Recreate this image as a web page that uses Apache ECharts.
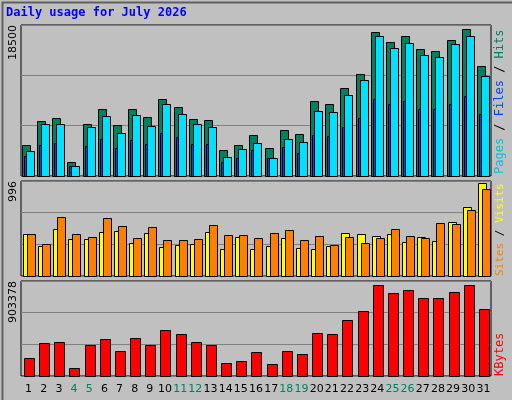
<!DOCTYPE html>
<html><head><meta charset="utf-8">
<script src="https://cdn.jsdelivr.net/npm/echarts@6/dist/echarts.min.js"></script>
<style>html,body{margin:0;padding:0;background:#c0c0c0}#c{width:512px;height:400px}</style>
</head><body><div id="c"></div>
<script>
const days = ['1','2','3','4','5','6','7','8','9','10','11','12','13','14','15','16','17','18','19','20','21','22','23','24','25','26','27','28','29','30','31'];
const weekend = ['4','5','11','12','18','19','25','26'];
const hits  = [3822,6750,7116,1748,6384,8213,6262,8213,7237,9433,8457,6994,6872,3212,3822,5042,3456,5652,5164,9189,8823,10775,12483,17606,16386,17118,15532,15288,16630,17972,13458];
const files = [3090,6384,6384,1260,6018,7360,5286,7481,6140,8823,7603,6384,6018,2358,3334,4066,2236,4554,4188,7970,7847,9921,11751,17118,15654,16264,14800,14556,16142,17118,12239];
const pages = [2400,3740,4066,1260,3619,4473,3375,4350,3944,5286,4838,3863,3863,1748,2236,3131,2236,3497,2846,5042,4920,6018,7116,9433,8823,9189,8213,8213,8823,9799,7603];
const visits= [443,316,495,390,390,464,474,348,453,306,327,337,464,285,411,285,316,400,295,285,316,453,443,422,443,358,411,369,569,727,970];
const sites = [443,337,622,443,411,611,527,400,516,379,379,390,537,432,432,400,453,485,379,422,327,411,348,400,495,422,400,559,548,696,917];
const kbytes= [173700,315900,325300,79000,296900,353800,240000,363300,296900,439000,401100,325300,296900,126300,145300,230600,116900,240000,211600,410600,401100,533800,619100,865500,789700,818100,742300,742300,799200,865500,638100];
const maxLabels = [18500, 996, 903378];

const chart = echarts.init(document.getElementById('c'));
const L = 21, R = 21;
const grids = [
  {left:L, right:R, top:25, height:151},
  {left:L, right:R, top:181, height:95},
  {left:L, right:R, top:281, height:95}
];
function bar(data, color, gi, dx, w){
  return {type:'custom', xAxisIndex:gi, yAxisIndex:gi, data:data.map((v,i)=>[i,v]),
    renderItem:(p,api)=>{
      const top = api.coord([api.value(0), api.value(1)]);
      const base = api.coord([api.value(0), 0]);
      const cw = api.size([1,0])[0];
      const x = Math.round(base[0] - cw/2 + dx);
      return {type:'rect', shape:{x:x+0.5, y:Math.round(top[1])+0.5, width:w, height:Math.round(base[1]-top[1])},
        style:{fill:color, stroke:'#000', lineWidth:1}};
    }};
}
const xAxes = grids.map((g,i)=>({type:'category', gridIndex:i, data:days, boundaryGap:true,
  axisLine:{show:false}, axisTick:{show:false},
  axisLabel:{show:i===2, margin:8, fontFamily:'DejaVu Sans', fontSize:11, interval:0,
    formatter:v=>weekend.includes(v)?'{w|'+v+'}':'{n|'+v+'}',
    rich:{w:{color:'#008060',fontFamily:'DejaVu Sans',fontSize:11},n:{color:'#000',fontFamily:'DejaVu Sans',fontSize:11}}}}));
const yAxes = maxLabels.map((m,i)=>({type:'value', gridIndex:i, min:0, max:m, interval:m/3,
  axisLabel:{show:false}, axisLine:{show:false}, axisTick:{show:false},
  splitLine:{show:true, lineStyle:{color:'#808080', width:1}}}));
const mono = '12px DejaVu Sans Mono';
const mono2 = '11px DejaVu Sans Mono';
chart.setOption({
  animation:false,
  backgroundColor:'#c0c0c0',
  grid: grids.map(g=>Object.assign({show:true, borderColor:'#000', borderWidth:1, backgroundColor:'#c0c0c0'}, g)),
  xAxis:xAxes, yAxis:yAxes,
  series:[
    bar(hits,'#008060',0,1,8), bar(files,'#00e0ff',0,5,8), bar(pages,'#0040ff',0,3,2),
    bar(visits,'#ffff00',1,2,8), bar(sites,'#ff8000',1,6,8),
    bar(kbytes,'#ff0000',2,3,10)
  ],
  graphic:[
    {type:'rect', left:0, top:0, shape:{width:511, height:399}, style:{fill:'none', stroke:'#606060', lineWidth:2}},
    {type:'text', left:6, top:7, style:{text:'Daily usage for July 2026', fill:'#0000ff', font:'bold 12px DejaVu Sans Mono'}},
    {type:'text', x:8, y:25, rotation:Math.PI/2, style:{text:String(maxLabels[0]), fill:'#000', font:'11px DejaVu Sans', align:'right', verticalAlign:'top'}},
    {type:'text', x:8, y:181, rotation:Math.PI/2, style:{text:String(maxLabels[1]), fill:'#000', font:'11px DejaVu Sans', align:'right', verticalAlign:'top'}},
    {type:'text', x:8, y:281, rotation:Math.PI/2, style:{text:String(maxLabels[2]), fill:'#000', font:'11px DejaVu Sans', align:'right', verticalAlign:'top'}},
    {type:'text', x:494, y:174, rotation:Math.PI/2, style:{text:'{p|Pages}{s| / }{f|Files}{s| / }{h|Hits}', align:'left', verticalAlign:'top',
      rich:{p:{fill:'#00c0e0',font:mono},f:{fill:'#0040ff',font:mono},h:{fill:'#008060',font:mono},s:{fill:'#000',font:mono}}}},
    {type:'text', x:495, y:276, rotation:Math.PI/2, style:{text:'{a|Sites}{s| / }{b|Visits}', align:'left', verticalAlign:'top',
      rich:{a:{fill:'#ff8000',font:mono2},b:{fill:'#ffff00',font:mono2},s:{fill:'#000',font:mono2}}}},
    {type:'text', x:494, y:376, rotation:Math.PI/2, style:{text:'KBytes', fill:'#ff0000', font:mono, align:'left', verticalAlign:'top'}}
  ]
});
</script></body></html>
